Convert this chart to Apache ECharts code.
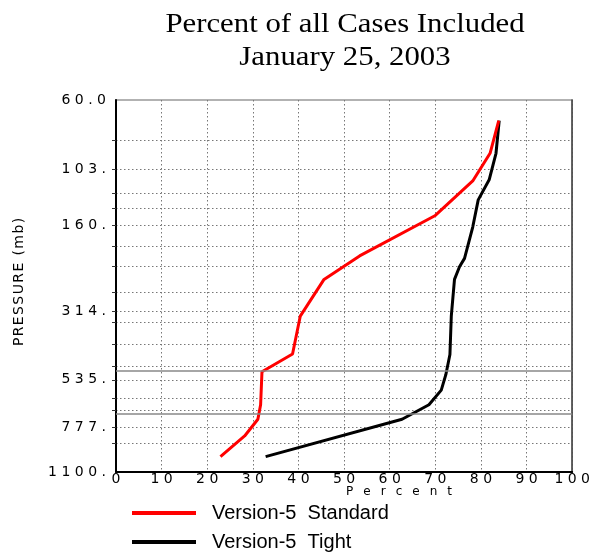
<!DOCTYPE html>
<html>
<head>
<meta charset="utf-8">
<script src="https://cdn.jsdelivr.net/npm/echarts@6/dist/echarts.min.js"></script>
<style>html,body{margin:0;padding:0;background:#fff}#c{width:593px;height:554px}</style>
</head>
<body>
<div id="c"></div>
<script>
// Data
const stdPercent   = [83.9, 82.0, 78.2, 70.0, 53.4, 45.6, 40.4, 38.7, 32.0, 31.7, 31.1, 28.2, 22.9];
const stdPressure  = [70.5, 91, 113, 148, 203, 244, 325, 437, 502, 650, 728, 830, 975];
const tightPercent = [84.0, 83.3, 81.8, 79.4, 78.2, 76.4, 75.3, 74.2, 73.5, 73.2, 72.3, 71.3, 68.6, 62.7, 32.8];
const tightPressure= [70.5, 91, 112, 131, 162, 207, 221, 244, 325, 439, 514, 580, 650, 728, 975];
const yLabelValues = [60, 103, 160, 314, 535, 777, 1100];
const yLabelText   = ['60.0', '103.', '160.', '314.', '535.', '777.', '1100.'];
const yGridValues  = [82, 103, 124, 140, 160, 188, 221, 270, 314, 340, 404, 480, 535, 617, 681, 777, 876];
const refLines     = [500, 700];
const seriesNames  = ['Version-5  Standard', 'Version-5  Tight'];

function spaced(s, gap) { return s.split('').join(gap); }

const chart = echarts.init(document.getElementById('c'), null, {renderer: 'canvas'});
const labelFont = {fontFamily: 'DejaVu Sans', fontSize: 14, color: '#000'};

chart.setOption({
  animation: false,
  backgroundColor: '#fff',
  graphic: [
    {type: 'text', x: 345, y: 8.5, scaleX: 1.1, style: {text: 'Percent of all Cases Included\nJanuary 25, 2003',
      font: '28px "Liberation Serif"', fill: '#000', align: 'center', textAlign: 'center',
      verticalAlign: 'top', lineHeight: 32.5}},
    {type: 'text', x: 399, y: 492, style: {text: spaced('Percent', '  \u2009'),
      font: '12px "DejaVu Sans"', fill: '#000', align: 'center', textAlign: 'center',
      verticalAlign: 'middle', textVerticalAlign: 'middle'}},
    {type: 'text', x: 19, y: 282, rotation: Math.PI / 2, style: {text: spaced('PRESSURE (mb)', '\u200A'),
      font: '14px "DejaVu Sans"', fill: '#000', align: 'center', textAlign: 'center',
      verticalAlign: 'middle', textVerticalAlign: 'middle'}}
  ],
  legend: {
    orient: 'vertical', left: 132, top: 502, padding: 0, itemWidth: 64, itemHeight: 4, itemGap: 7,
    icon: 'rect', data: seriesNames,
    textStyle: {fontFamily: 'Liberation Sans', fontSize: 20, color: '#000', lineHeight: 22, padding: [0, 0, 0, 11]}
  },
  grid: {left: 116, right: 20, top: 100, bottom: 82, show: true, borderColor: '#999', borderWidth: 1.5},
  xAxis: {
    type: 'value', min: 0, max: 100, interval: 10,
    axisLine: {lineStyle: {color: '#000', width: 2}},
    axisTick: {show: false},
    axisLabel: Object.assign({margin: 0, formatter: v => spaced(String(v), ' ')}, labelFont),
    splitLine: {show: true, lineStyle: {color: '#777', type: [1.5, 2.5], width: 1}}
  },
  yAxis: [{
    type: 'log', logBase: 10, inverse: true, min: 60, max: 1100,
    axisLine: {lineStyle: {color: '#000', width: 2}},
    axisTick: {show: true, inside: false, length: 4, customValues: yGridValues, lineStyle: {color: '#333'}},
    axisLabel: Object.assign({margin: 10, customValues: yLabelValues, formatter: function (v) {
      for (let i = 0; i < yLabelValues.length; i++) {
        if (Math.abs(yLabelValues[i] - v) / v < 0.01) return spaced(yLabelText[i], ' ');
      }
      return '';
    }}, labelFont),
    splitLine: {show: true, lineStyle: {color: '#777', type: [1.5, 2.5], width: 1}},
    minorTick: {show: false}, minorSplitLine: {show: false}
  }, {
    type: 'value', position: 'right', min: 0, max: 1,
    axisLine: {show: true, lineStyle: {color: '#444', width: 1.5}},
    axisTick: {show: false}, axisLabel: {show: false}, splitLine: {show: false}
  }],
  series: [
    {
      name: seriesNames[0], type: 'line', yAxisIndex: 0, showSymbol: false, symbol: 'none',
      itemStyle: {color: '#ff0000'}, lineStyle: {color: '#ff0000', width: 3}, z: 4,
      data: stdPercent.map((p, i) => [p, stdPressure[i]]),
      markLine: {silent: true, symbol: 'none', label: {show: false},
        lineStyle: {color: '#888', type: 'solid', width: 1.5},
        data: refLines.map(v => ({yAxis: v}))}
    },
    {
      name: seriesNames[1], type: 'line', yAxisIndex: 0, showSymbol: false, symbol: 'none',
      itemStyle: {color: '#000'}, lineStyle: {color: '#000', width: 3}, z: 3,
      data: tightPercent.map((p, i) => [p, tightPressure[i]])
    }
  ]
});
</script>
</body>
</html>
